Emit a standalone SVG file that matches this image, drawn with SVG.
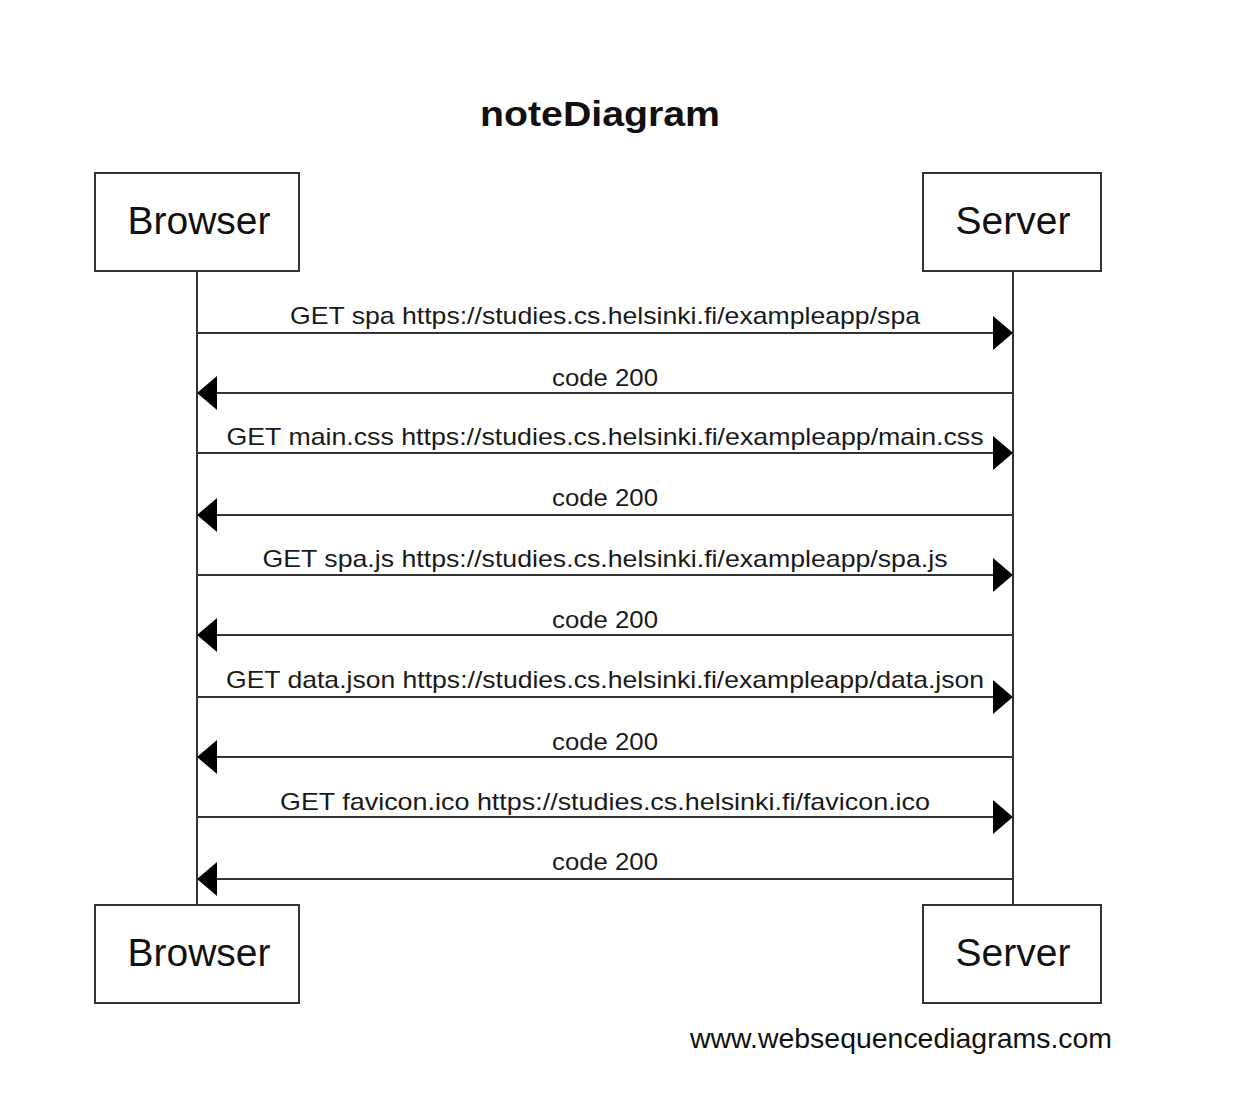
<svg xmlns="http://www.w3.org/2000/svg" width="1244" height="1102" viewBox="0 0 1244 1102">
<style>
.bg{fill:#ffffff}
.box{fill:#ffffff;stroke:#333333;stroke-width:2}
.life{stroke:#333333;stroke-width:2}
.msg{stroke:#333333;stroke-width:2;fill:none}
.head{fill:#000000}
.actor{font-family:"Liberation Sans",Arial,sans-serif;font-size:39px;fill:#111111;text-anchor:middle}
.lbl{font-family:"Liberation Sans",Arial,sans-serif;font-size:24px;fill:#1a1a1a;text-anchor:middle}
.title{font-family:"Liberation Sans",Arial,sans-serif;font-size:35px;font-weight:bold;fill:#111111;text-anchor:middle}
.foot{font-family:"Liberation Sans",Arial,sans-serif;font-size:28px;fill:#111111;text-anchor:middle}
</style>
<rect class="bg" x="0" y="0" width="1244" height="1102"/>
<text class="title" x="600" y="126" textLength="240" lengthAdjust="spacingAndGlyphs">noteDiagram</text>
<g id="lifelines">
<line class="life" x1="197" y1="271" x2="197" y2="904"/>
<line class="life" x1="1013" y1="271" x2="1013" y2="904"/>
</g>
<g id="browser-top"><rect class="box" x="95" y="173" width="204" height="98"/><text class="actor" x="199" y="234">Browser</text></g>
<g id="server-top"><rect class="box" x="923" y="173" width="178" height="98"/><text class="actor" x="1013" y="234">Server</text></g>
<g id="browser-bottom"><rect class="box" x="95" y="905" width="204" height="98"/><text class="actor" x="199" y="966">Browser</text></g>
<g id="server-bottom"><rect class="box" x="923" y="905" width="178" height="98"/><text class="actor" x="1013" y="966">Server</text></g>
<g id="connectors">
<line class="msg" x1="197" y1="333" x2="995" y2="333"/><polygon class="head" points="1013,333 993,316 993,350"/>
<line class="msg" x1="1013" y1="393" x2="215" y2="393"/><polygon class="head" points="197,393 217,376 217,410"/>
<line class="msg" x1="197" y1="453" x2="995" y2="453"/><polygon class="head" points="1013,453 993,436 993,470"/>
<line class="msg" x1="1013" y1="515" x2="215" y2="515"/><polygon class="head" points="197,515 217,498 217,532"/>
<line class="msg" x1="197" y1="575" x2="995" y2="575"/><polygon class="head" points="1013,575 993,558 993,592"/>
<line class="msg" x1="1013" y1="635" x2="215" y2="635"/><polygon class="head" points="197,635 217,618 217,652"/>
<line class="msg" x1="197" y1="697" x2="995" y2="697"/><polygon class="head" points="1013,697 993,680 993,714"/>
<line class="msg" x1="1013" y1="757" x2="215" y2="757"/><polygon class="head" points="197,757 217,740 217,774"/>
<line class="msg" x1="197" y1="817" x2="995" y2="817"/><polygon class="head" points="1013,817 993,800 993,834"/>
<line class="msg" x1="1013" y1="879" x2="215" y2="879"/><polygon class="head" points="197,879 217,862 217,896"/>
</g>
<g id="labels">
<text class="lbl" x="605" y="324" textLength="630" lengthAdjust="spacingAndGlyphs">GET spa https://studies.cs.helsinki.fi/exampleapp/spa</text>
<text class="lbl" x="605" y="386" textLength="106" lengthAdjust="spacingAndGlyphs">code 200</text>
<text class="lbl" x="605" y="445" textLength="757" lengthAdjust="spacingAndGlyphs">GET main.css https://studies.cs.helsinki.fi/exampleapp/main.css</text>
<text class="lbl" x="605" y="506" textLength="106" lengthAdjust="spacingAndGlyphs">code 200</text>
<text class="lbl" x="605" y="567" textLength="685" lengthAdjust="spacingAndGlyphs">GET spa.js https://studies.cs.helsinki.fi/exampleapp/spa.js</text>
<text class="lbl" x="605" y="628" textLength="106" lengthAdjust="spacingAndGlyphs">code 200</text>
<text class="lbl" x="605" y="688" textLength="758" lengthAdjust="spacingAndGlyphs">GET data.json https://studies.cs.helsinki.fi/exampleapp/data.json</text>
<text class="lbl" x="605" y="750" textLength="106" lengthAdjust="spacingAndGlyphs">code 200</text>
<text class="lbl" x="605" y="810" textLength="650" lengthAdjust="spacingAndGlyphs">GET favicon.ico https://studies.cs.helsinki.fi/favicon.ico</text>
<text class="lbl" x="605" y="870" textLength="106" lengthAdjust="spacingAndGlyphs">code 200</text>
</g>
<text class="foot" x="901" y="1048" textLength="422" lengthAdjust="spacingAndGlyphs">www.websequencediagrams.com</text>
</svg>
